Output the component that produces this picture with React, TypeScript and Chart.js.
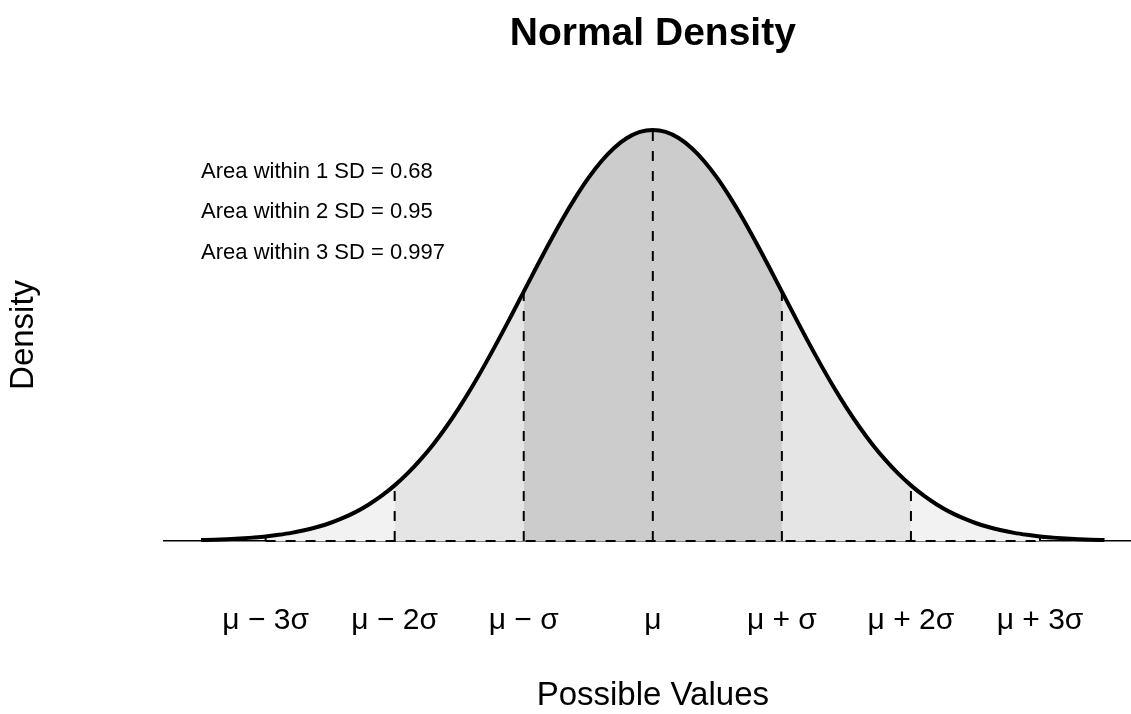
import React, { useEffect, useRef } from "react";
import { Chart, registerables } from "chart.js";

Chart.register(...registerables);

// x positions (in SD units) and standard normal density values
const X_VALUES = [
  -3.5, -3.4, -3.3, -3.2, -3.1, -3.0, -2.9, -2.8, -2.7, -2.6,
  -2.5, -2.4, -2.3, -2.2, -2.1, -2.0, -1.9, -1.8, -1.7, -1.6,
  -1.5, -1.4, -1.3, -1.2, -1.1, -1.0, -0.9, -0.8, -0.7, -0.6,
  -0.5, -0.4, -0.3, -0.2, -0.1, 0.0, 0.1, 0.2, 0.3, 0.4,
  0.5, 0.6, 0.7, 0.8, 0.9, 1.0, 1.1, 1.2, 1.3, 1.4,
  1.5, 1.6, 1.7, 1.8, 1.9, 2.0, 2.1, 2.2, 2.3, 2.4,
  2.5, 2.6, 2.7, 2.8, 2.9, 3.0, 3.1, 3.2, 3.3, 3.4, 3.5,
];
const DENSITY = [
  0.0009, 0.0012, 0.0017, 0.0024, 0.0033, 0.0044, 0.006, 0.0079, 0.0104, 0.0136,
  0.0175, 0.0224, 0.0283, 0.0355, 0.044, 0.054, 0.0656, 0.079, 0.094, 0.1109,
  0.1295, 0.1497, 0.1714, 0.1942, 0.2179, 0.242, 0.2661, 0.2897, 0.3123, 0.3332,
  0.3521, 0.3683, 0.3814, 0.391, 0.397, 0.3989, 0.397, 0.391, 0.3814, 0.3683,
  0.3521, 0.3332, 0.3123, 0.2897, 0.2661, 0.242, 0.2179, 0.1942, 0.1714, 0.1497,
  0.1295, 0.1109, 0.094, 0.079, 0.0656, 0.054, 0.044, 0.0355, 0.0283, 0.0224,
  0.0175, 0.0136, 0.0104, 0.0079, 0.006, 0.0044, 0.0033, 0.0024, 0.0017, 0.0012, 0.0009,
];

const SD_MARKS = [-3, -2, -1, 0, 1, 2, 3];
const TICK_LABELS = ["μ − 3σ", "μ − 2σ", "μ − σ", "μ", "μ + σ", "μ + 2σ", "μ + 3σ"];
const SHADE_WIDTHS = [3, 2, 1];
const SHADE_COLORS = ["#f2f2f2", "#e5e5e5", "#cccccc"];

const AREA_LABELS = [
  "Area within 1 SD = 0.68",
  "Area within 2 SD = 0.95",
  "Area within 3 SD = 0.997",
];
const AREA_LABEL_X = -3.5;
const AREA_LABEL_Y = [0.358, 0.319, 0.28];

const X_MIN = -3.795;
const X_MAX = 3.705;
const Y_MIN = -0.0155;
const Y_MAX = 0.4155;

const FONT = "'Liberation Sans', Arial, Helvetica, sans-serif";

export default function App() {
  const ref = useRef<HTMLCanvasElement>(null);

  useEffect(() => {
    if (!ref.current) return;
    const pts = X_VALUES.map((x, i) => ({ x, y: DENSITY[i] }));
    const within = (k: number) => pts.filter((p) => p.x >= -k - 1e-9 && p.x <= k + 1e-9);
    const densAt = (x: number) => {
      let best = 0;
      X_VALUES.forEach((v, i) => {
        if (Math.abs(v - x) < Math.abs(X_VALUES[best] - x)) best = i;
      });
      return DENSITY[best];
    };

    const datasets: any[] = [];
    datasets.push({
      label: "density",
      data: pts,
      borderColor: "#000",
      borderWidth: 4,
      pointRadius: 0,
      fill: false,
      cubicInterpolationMode: "monotone",
      order: 0,
    });
    datasets.push({
      label: "base",
      data: [
        { x: SD_MARKS[0], y: 0 },
        { x: SD_MARKS[SD_MARKS.length - 1], y: 0 },
      ],
      borderColor: "#000",
      borderWidth: 2,
      borderDash: [10, 10],
      pointRadius: 0,
      fill: false,
      order: 1,
    });
    SD_MARKS.forEach((m) => {
      datasets.push({
        label: "sd" + m,
        data: [
          { x: m, y: 0 },
          { x: m, y: densAt(m) },
        ],
        borderColor: "#000",
        borderWidth: 2,
        borderDash: [10, 10],
        pointRadius: 0,
        fill: false,
        order: 1,
      });
    });
    SHADE_WIDTHS.forEach((k, i) => {
      datasets.push({
        label: "shade" + k,
        data: within(k),
        borderWidth: 0,
        borderColor: "rgba(0,0,0,0)",
        backgroundColor: SHADE_COLORS[i],
        pointRadius: 0,
        fill: "origin",
        cubicInterpolationMode: "monotone",
        order: 10 - i,
      });
    });

    const textPlugin = {
      id: "areaText",
      beforeDraw(chart: any) {
        // centre the title and the x-axis title over the mean (centre of the plotted range)
        const tb = chart.titleBlock;
        const xs = chart.scales.x;
        if (!xs) return;
        const mid = xs.getPixelForValue(0);
        if (tb) {
          tb.right = 2 * mid - tb.left;
          tb.width = tb.right - tb.left;
        }
        xs.right = 2 * mid - xs.left;
      },
      afterDatasetsDraw(chart: any) {
        const { ctx } = chart;
        const xs = chart.scales.x;
        const ys = chart.scales.y;
        ctx.save();
        ctx.font = `22px ${FONT}`;
        ctx.fillStyle = "#000";
        ctx.textAlign = "left";
        ctx.textBaseline = "middle";
        AREA_LABELS.forEach((t, i) => {
          ctx.fillText(t, xs.getPixelForValue(AREA_LABEL_X), ys.getPixelForValue(AREA_LABEL_Y[i]));
        });
        ctx.restore();
      },
    };

    const chart = new Chart(ref.current, {
      type: "line",
      data: { datasets },
      options: {
        animation: false,
        responsive: false,
        maintainAspectRatio: false,
        layout: { padding: 0 },
        plugins: {
          legend: { display: false },
          tooltip: { enabled: false },
          title: {
            display: true,
            fullSize: false,
            text: "Normal Density",
            color: "#000",
            font: { family: FONT, size: 39, weight: "bold", lineHeight: 1.2 },
            padding: { top: 11, bottom: 55 },
          },
        },
        scales: {
          x: {
            type: "linear",
            min: X_MIN,
            max: X_MAX,
            grid: { display: false, drawTicks: false },
            border: { display: false },
            afterBuildTicks: (scale: any) => {
              scale.ticks = SD_MARKS.map((v) => ({ value: v }));
            },
            afterFit: (scale: any) => {
              scale.height = 157;
            },
            ticks: {
              autoSkip: false,
              maxRotation: 0,
              minRotation: 0,
              padding: 46,
              color: "#000",
              font: { family: FONT, size: 30, lineHeight: 1.2 },
              callback: (_v: any, i: number) => TICK_LABELS[i],
            },
            title: {
              display: true,
              text: "Possible Values",
              color: "#000",
              font: { family: FONT, size: 33, lineHeight: 1.1 },
              padding: { top: 0, bottom: 0 },
            },
          },
          y: {
            type: "linear",
            min: Y_MIN,
            max: Y_MAX,
            grid: { display: true, drawTicks: false, color: "#000", lineWidth: 1.5 },
            border: { display: false },
            afterBuildTicks: (scale: any) => {
              scale.ticks = [{ value: 0 }];
            },
            afterFit: (scale: any) => {
              scale.width = 163;
            },
            ticks: { display: false },
            title: {
              display: true,
              text: "Density",
              color: "#000",
              font: { family: FONT, size: 33, lineHeight: 1.2 },
              padding: { top: 4, bottom: 0 },
            },
          },
        },
      },
      plugins: [textPlugin],
    } as any);

    return () => chart.destroy();
  }, []);

  return (
    <div style={{ position: "absolute", left: 0, top: 0, width: 1131, height: 714, background: "#fff", overflow: "hidden" }}>
      <canvas ref={ref} width={1131} height={714} style={{ display: "block" }} />
    </div>
  );
}
